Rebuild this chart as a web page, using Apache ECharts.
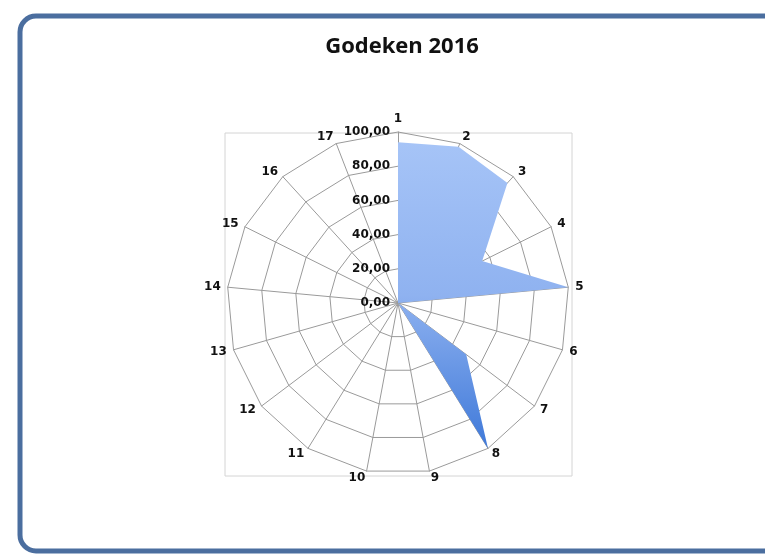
<!DOCTYPE html>
<html>
<head>
<meta charset="utf-8">
<script src="https://cdn.jsdelivr.net/npm/echarts@6/dist/echarts.min.js"></script>
<style>
  html, body { margin: 0; padding: 0; background: #fff; }
  #main { width: 765px; height: 555px; }
</style>
</head>
<body>
<div id="main"></div>
<script>
// categories (spokes) and values
var categories = ['1', '2', '3', '4', '5', '6', '7', '8', '9', '10', '11', '12', '13', '14', '15', '16', '17'];
var values = [94, 98, 95, 55, 100, 0, 50, 100, 0, 0, 0, 0, 0, 0, 0, 0, 0];
var axisMax = 100;
var tickStep = 20;

var myChart = echarts.init(document.getElementById('main'));

// radar runs counter-clockwise, the reference runs clockwise: keep 1 on top, reverse the rest
var order = [0];
for (var k = categories.length - 1; k > 0; k--) order.push(k);

var indicators = order.map(function (i) {
    var ind = { name: categories[i], max: axisMax, min: 0 };
    if (i === 0) {
        ind.axisLabel = { show: true };
    }
    return ind;
});
var orderedValues = order.map(function (i) { return values[i]; });

myChart.setOption({
    animation: false,
    title: {
        text: 'Godeken 2016',
        left: 397,
        textAlign: 'center',
        top: 31,
        textStyle: { fontFamily: 'Open Sans', fontWeight: 'bold', fontSize: 22, color: '#111' }
    },
    graphic: [
        {
            // outer rounded frame
            type: 'rect',
            shape: { x: 20, y: 16, width: 800, height: 535, r: 16 },
            style: { fill: null, stroke: '#4b6e9f', lineWidth: 5 },
            z: -1
        },
        {
            // plot area box
            type: 'rect',
            shape: { x: 225, y: 133, width: 347, height: 343 },
            style: { fill: null, stroke: '#d4d4d4', lineWidth: 1 },
            z: -1
        }
    ],
    radar: {
        center: [398, 303],
        radius: 171,
        startAngle: 90,
        shape: 'polygon',
        splitNumber: axisMax / tickStep,
        indicator: indicators,
        axisName: { color: '#111', fontWeight: 'bold', fontSize: 12, fontFamily: 'DejaVu Sans' },
        nameGap: 7,
        axisLine: { lineStyle: { color: '#9a9a9a', width: 1 } },
        splitLine: { lineStyle: { color: '#9a9a9a', width: 1 } },
        splitArea: { show: false },
        axisTick: { show: false },
        axisLabel: {
            show: false,
            interval: 0,
            hideOverlap: false,
            showMinLabel: true,
            showMaxLabel: true,
            color: '#111',
            fontSize: 12,
            fontWeight: 'bold',
            fontFamily: 'DejaVu Sans',
            formatter: function (v) { return v.toFixed(2).replace('.', ','); }
        }
    },
    series: [{
        type: 'radar',
        symbol: 'none',
        lineStyle: { width: 0 },
        areaStyle: {
            opacity: 1,
            color: new echarts.graphic.LinearGradient(0, 0, 0, 1, [
                { offset: 0, color: '#a6c4f7' },
                { offset: 0.5, color: '#8fb2f0' },
                { offset: 1, color: '#3f79d9' }
            ])
        },
        data: [{ value: orderedValues }]
    }]
});
</script>
</body>
</html>
